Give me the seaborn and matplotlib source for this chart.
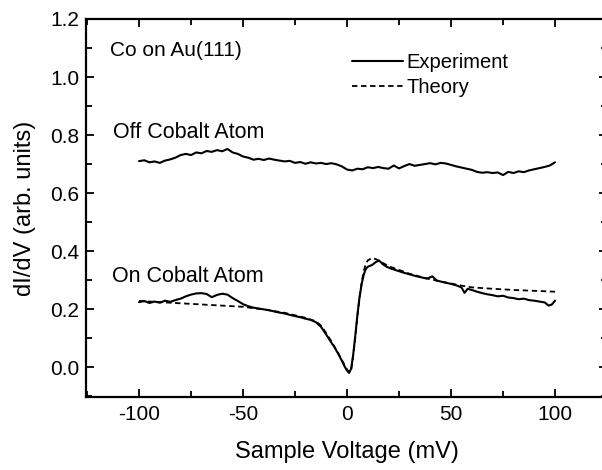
import numpy as np
import pandas as pd
import seaborn as sns
import matplotlib
matplotlib.use("Agg")
import matplotlib.pyplot as plt
import matplotlib.ticker as ticker

# Off cobalt atom (experiment)
off_v = [-100, -97.5, -95, -92.5, -90, -87.5, -85, -82.5, -80, -77.5,
         -75, -72.5, -70, -67.5, -65, -62.5, -60, -57.5, -55, -52.5,
         -50, -47.5, -45, -42.5, -40, -37.5, -35, -32.5, -30, -27.5,
         -25, -22.5, -20, -17.5, -15, -12.5, -10, -7.5, -5, -2.5,
         0, 2.5, 5, 7.5, 10, 12.5, 15, 17.5, 20, 22.5,
         25, 27.5, 30, 32.5, 35, 37.5, 40, 42.5, 45, 47.5,
         50, 52.5, 55, 57.5, 60, 62.5, 65, 67.5, 70, 72.5,
         75, 77.5, 80, 82.5, 85, 87.5, 90, 92.5, 95, 97.5, 100]
off_didv = [0.710, 0.713, 0.706, 0.709, 0.704, 0.712, 0.716, 0.722, 0.731, 0.735,
            0.731, 0.740, 0.737, 0.745, 0.742, 0.748, 0.744, 0.752, 0.740, 0.735,
            0.726, 0.722, 0.715, 0.718, 0.714, 0.719, 0.715, 0.712, 0.709, 0.711,
            0.704, 0.707, 0.701, 0.706, 0.702, 0.704, 0.700, 0.703, 0.699, 0.692,
            0.681, 0.678, 0.684, 0.682, 0.689, 0.686, 0.690, 0.686, 0.684, 0.695,
            0.685, 0.693, 0.700, 0.694, 0.697, 0.700, 0.703, 0.699, 0.704, 0.702,
            0.697, 0.692, 0.688, 0.684, 0.680, 0.673, 0.670, 0.672, 0.669, 0.671,
            0.662, 0.673, 0.669, 0.675, 0.672, 0.678, 0.682, 0.686, 0.690, 0.695, 0.706]

# On cobalt atom (experiment)
on_v = [-100, -97.5, -95, -92.5, -90, -87.5, -85, -82.5, -80, -77.5,
        -75, -72.5, -70, -67.5, -65, -62.5, -60, -57.5, -55, -52.5,
        -50, -47.5, -45, -42.5, -40, -37.5, -35, -32.5, -30, -27.5,
        -25, -22.5, -20, -17.5, -15, -12.5, -10, -8, -6, -4,
        -2, -1, 0, 1, 2, 3, 4, 5, 6, 7,
        8, 9, 10, 12, 14, 15.5, 17, 19, 21, 24,
        27, 30, 33, 36, 38.5, 41, 43, 45, 47.5, 50,
        52.5, 55, 56.5, 58, 60, 62.5, 65, 67.5, 70, 72.5,
        75, 77.5, 80, 82.5, 85, 87.5, 90, 92.5, 95, 97, 98.5, 100]
on_didv = [0.224, 0.228, 0.221, 0.226, 0.222, 0.229, 0.225, 0.231, 0.236, 0.244,
           0.250, 0.254, 0.255, 0.252, 0.241, 0.249, 0.253, 0.250, 0.238, 0.228,
           0.217, 0.210, 0.205, 0.202, 0.199, 0.196, 0.192, 0.188, 0.185, 0.180,
           0.176, 0.172, 0.167, 0.163, 0.155, 0.139, 0.112, 0.090, 0.068, 0.043,
           0.015, 0.000, -0.012, -0.020, -0.005, 0.045, 0.110, 0.180, 0.240, 0.285,
           0.318, 0.338, 0.346, 0.352, 0.363, 0.367, 0.356, 0.346, 0.340, 0.333,
           0.326, 0.320, 0.314, 0.309, 0.305, 0.313, 0.299, 0.295, 0.291, 0.287,
           0.282, 0.275, 0.256, 0.270, 0.266, 0.260, 0.255, 0.251, 0.248, 0.244,
           0.246, 0.240, 0.238, 0.234, 0.236, 0.231, 0.229, 0.226, 0.223, 0.212, 0.216, 0.229]

# Theory
th_v = [-100, -90, -80, -70, -60, -50, -45, -40, -30, -20, -15, -12.5, -10, -8, -6, -4,
        -2, 0, 1, 2, 3, 4, 5, 6, 7, 8, 9, 10, 12, 14, 17, 20, 25, 30, 35, 40,
        45, 50, 55, 60, 70, 80, 90, 100]
th_didv = [0.228, 0.224, 0.220, 0.216, 0.212, 0.208, 0.203, 0.199, 0.187, 0.170, 0.158, 0.143,
           0.117, 0.094, 0.070, 0.045, 0.018, -0.008, -0.018, -0.008, 0.040, 0.105, 0.175,
           0.238, 0.290, 0.330, 0.355, 0.368, 0.376, 0.372, 0.360, 0.348, 0.335, 0.322,
           0.312, 0.303, 0.295, 0.288, 0.281, 0.275, 0.270, 0.266, 0.263, 0.260]

sns.set_style("ticks", {"xtick.direction": "in", "ytick.direction": "in",
                        "axes.edgecolor": "black", "text.color": "black",
                        "axes.labelcolor": "black", "xtick.color": "black",
                        "ytick.color": "black"})
plt.rcParams["font.family"] = ["Liberation Sans", "DejaVu Sans"]
plt.rcParams["axes.unicode_minus"] = False

fig = plt.figure(figsize=(6.02, 4.70), dpi=100)
ax = fig.add_axes([86 / 602, 1 - 397 / 470, 521 / 602, 378 / 470])

sns.lineplot(x=on_v, y=on_didv, ax=ax, color="black", lw=1.5, estimator=None,
             label="Experiment", zorder=3)
sns.lineplot(x=off_v, y=off_didv, ax=ax, color="black", lw=1.5, estimator=None, zorder=3)
sns.lineplot(x=th_v, y=th_didv, ax=ax, color="black", lw=1.3, estimator=None,
             linestyle=(0, (3, 2)), label="Theory", zorder=2)

ax.set_xlim(-125.5, 125)
ax.set_ylim(-0.103, 1.2)
ax.xaxis.set_major_locator(ticker.MultipleLocator(50))
ax.xaxis.set_minor_locator(ticker.MultipleLocator(25))
ax.yaxis.set_major_locator(ticker.MultipleLocator(0.2))
ax.yaxis.set_minor_locator(ticker.MultipleLocator(0.1))
ax.yaxis.set_major_formatter(ticker.FormatStrFormatter("%.1f"))

ax.tick_params(which="both", top=True, right=True, width=1.3, labelsize=15,
               color="black", labelcolor="black")
ax.tick_params(which="major", length=6)
ax.tick_params(which="minor", length=4)
ax.tick_params(axis="y", pad=5)
ax.tick_params(axis="x", pad=6)
for s in ax.spines.values():
    s.set_linewidth(1.6)
    s.set_color("black")

ax.set_xlabel("Sample Voltage (mV)", fontsize=17, labelpad=12, color="black")
ax.set_ylabel("dI/dV (arb. units)", fontsize=17, labelpad=10, color="black")

ax.text(-114, 1.093, "Co on Au(111)", fontsize=15, va="center", ha="left", color="black")
ax.text(-112.5, 0.81, "Off Cobalt Atom", fontsize=15.5, va="center", ha="left", color="black")
ax.text(-113, 0.314, "On Cobalt Atom", fontsize=15.5, va="center", ha="left", color="black")

handles, labels = ax.get_legend_handles_labels()
leg = ax.legend(handles, labels, loc="upper left", bbox_to_anchor=(0.511, 0.91),
                frameon=False, fontsize=14.5, handlelength=2.5, handletextpad=0.2,
                labelspacing=0.3, borderpad=0, borderaxespad=0)
for t in leg.get_texts():
    t.set_color("black")

plt.savefig("out.png", dpi=100)
